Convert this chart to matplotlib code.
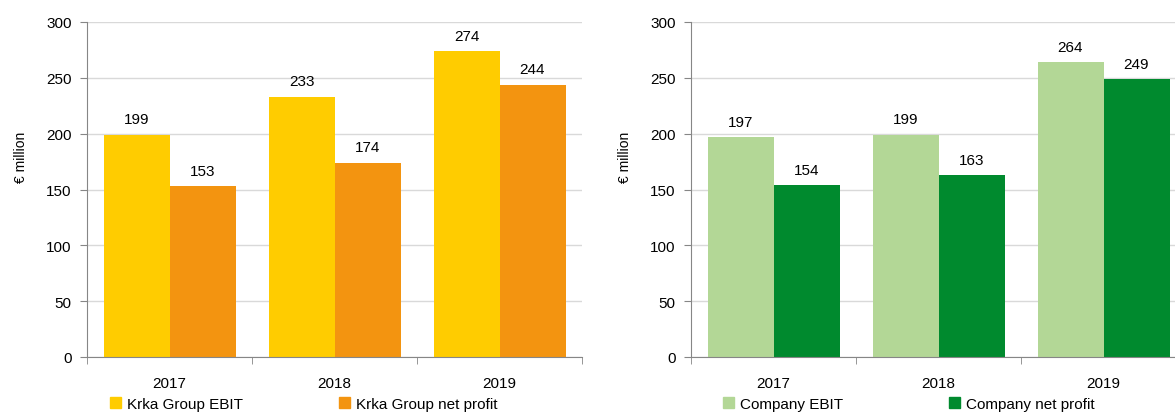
import numpy as np
import matplotlib.pyplot as plt
from matplotlib.patches import Patch

plt.rcParams['font.family'] = ['Liberation Sans', 'DejaVu Sans']

years = ['2017', '2018', '2019']
group_ebit = [199, 233, 274]
group_profit = [153, 174, 244]
company_ebit = [197, 199, 264]
company_profit = [154, 163, 249]

W, H = 1175, 414
fig = plt.figure(figsize=(W / 100, H / 100), dpi=100)

grid_col = '#d9d9d9'
axis_col = '#868686'
fs = 11


def panel(left_px, ebit, profit, c1, c2, lab1, lab2, leg_x1, leg_x2):
    # axes spans 0..300 between y=23 and y=358 px, 495 px wide
    ax = fig.add_axes([left_px / W, 1 - 358 / H, 495 / W, (358 - 23) / H])
    x = np.arange(len(years))
    w = 0.4
    b1 = ax.bar(x - w / 2, ebit, w, color=c1, zorder=2)
    b2 = ax.bar(x + w / 2, profit, w, color=c2, zorder=2)
    ax.bar_label(b1, padding=6, fontsize=fs)
    ax.bar_label(b2, padding=6, fontsize=fs)
    ax.set_xlim(-0.5, 2.5)
    ax.set_ylim(0, 300)
    ax.set_yticks(range(0, 301, 50))
    ax.set_xticks(x)
    ax.set_xticklabels(years, fontsize=fs)
    ax.set_xticks([-0.5, 0.5, 1.5, 2.5], minor=True)
    ax.tick_params(axis='x', which='major', length=0, pad=14)
    ax.tick_params(axis='x', which='minor', length=5, color=axis_col)
    ax.tick_params(axis='y', length=5, color=axis_col, labelsize=fs, pad=6)
    ax.grid(axis='y', color=grid_col, linewidth=1, zorder=0)
    for s in ['top', 'right']:
        ax.spines[s].set_visible(False)
    for s in ['left', 'bottom']:
        ax.spines[s].set_color(axis_col)
    ax.set_ylabel('€ million', fontsize=10)
    ax.yaxis.set_label_coords(-59 / 495, 0.6)
    for lab, col, lx in [(lab1, c1, leg_x1), (lab2, c2, leg_x2)]:
        fig.legend(handles=[Patch(color=col, label=lab)], loc='center left',
                   bbox_to_anchor=(lx / W, 1 - 405 / H), frameon=False,
                   fontsize=fs, handlelength=0.7, handleheight=0.7,
                   handletextpad=0.4, borderpad=0, borderaxespad=0)
    return ax


panel(87, group_ebit, group_profit, '#ffcc00', '#f39410',
      'Krka Group EBIT', 'Krka Group net profit', 110, 339)
panel(691, company_ebit, company_profit, '#b3d796', '#008a2e',
      'Company EBIT', 'Company net profit', 723, 949)

fig.savefig('out.png', dpi=100)
